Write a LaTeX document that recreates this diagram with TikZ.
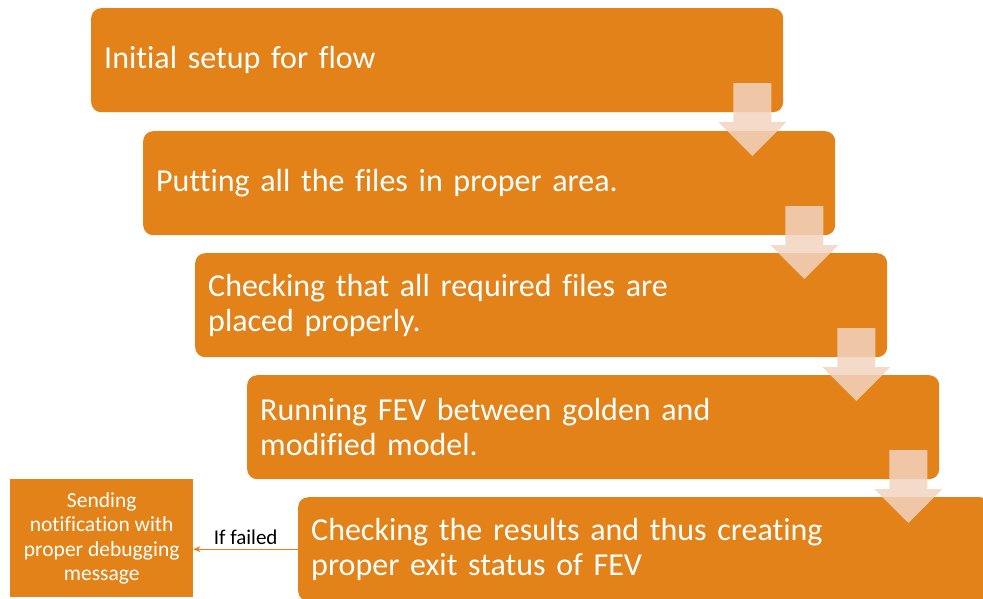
\documentclass[tikz,border=0pt]{standalone}
\usepackage{fontspec}
\setmainfont{Carlito}[Ligatures=NoCommon]
\usetikzlibrary{calc,arrows.meta}
\definecolor{stepfill}{RGB}{226,130,24}
\definecolor{flowarrow}{RGB}{242,212,191}
\begin{document}
\begin{tikzpicture}[x=1pt,y=-1pt,
  stage/.style={fill=stepfill, rounded corners=10pt, anchor=north west,
    text=white, align=left, text width=666pt, inner xsep=13pt, inner ysep=0pt,
    minimum height=104pt, font=\fontsize{32}{35}\selectfont},
  note/.style={fill=stepfill, anchor=north west, text=white, align=center,
    minimum width=183pt, minimum height=118pt, inner sep=0pt,
    font=\fontsize{21.5}{24.5}\selectfont},
  failline/.style={draw=stepfill, line width=0.9pt, -{Stealth[length=7pt,width=6pt]}},
  flowshape/.style={fill=flowarrow, fill opacity=0.85}]
\useasboundingbox (0,0) rectangle (983,598);

% process steps
\node[stage] (b1) at (91,8)   {Initial setup for flow};
\node[stage] (b2) at (143,131) {Putting all the files in proper area.};
\node[stage] (b3) at (195,253) {Checking that all required files are\\placed properly.};
\node[stage] (b4) at (247,375) {Running FEV between golden and\\modified model.};
\node[stage] (b5) at (298,497) {Checking the results and thus creating\\proper exit status of FEV};

% block arrows leading down to the next step
\foreach \s in {b1,b2,b3,b4}{
  \coordinate (t) at ($(\s.north east)+(-31,0)$);
  \fill[flowshape] (t) ++(-19,75) -- ++(38,0) -- ++(0,39) -- ++(15,0)
    -- ++(-34,34) -- ++(-34,-34) -- ++(15,0) -- cycle;
}

% failure notification
\node[note] (msg) at (10,479) {Sending\\notification with\\proper debugging\\message};
\draw[failline] (b5.west) -- (b5.west -| msg.east)
  node[midway, above=1pt, text=black, font=\fontsize{21}{24}\selectfont] {If failed};
\end{tikzpicture}
\end{document}
